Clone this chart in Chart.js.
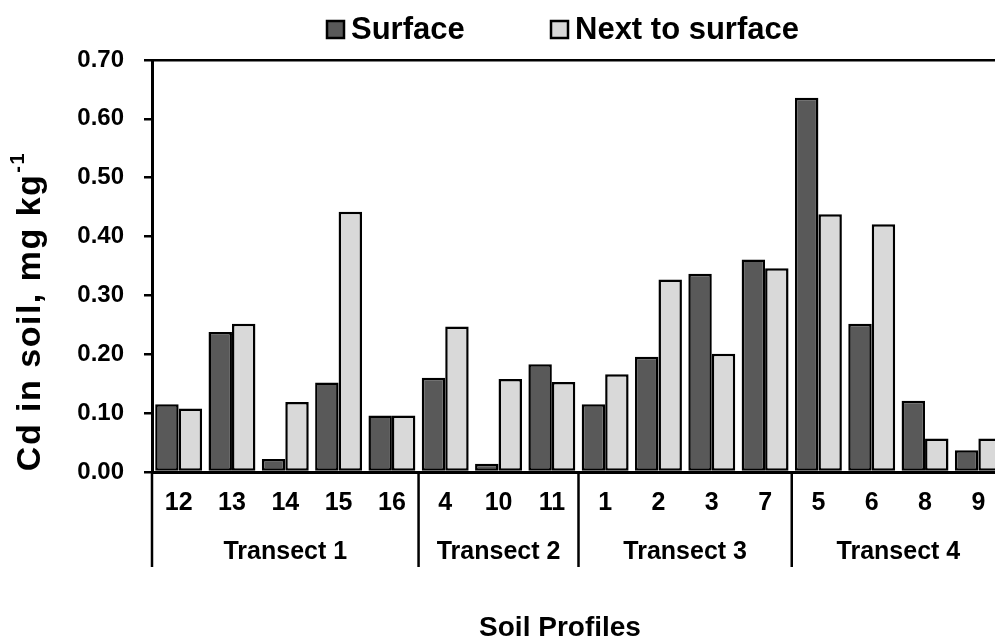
<!DOCTYPE html>
<html>
<head>
<meta charset="utf-8">
<script src="https://cdn.jsdelivr.net/npm/chart.js@4.4.1/dist/chart.umd.min.js"></script>
<style>
  html, body { margin: 0; padding: 0; background: #fff; overflow: hidden; }
  #wrap { width: 995px; height: 642px; overflow: hidden; }
</style>
</head>
<body>
<div id="wrap"><canvas id="cdChart" width="1010" height="642"></canvas></div>
<script>
// Soil profiles (x categories), grouped by transect
const profiles = ['12', '13', '14', '15', '16', '4', '10', '11', '1', '2', '3', '7', '5', '6', '8', '9'];
const transects = ['Transect 1', 'Transect 2', 'Transect 3', 'Transect 4'];
const transectSizes = [5, 3, 4, 4];

// Cd in soil, mg/kg
const surface = [0.115, 0.238, 0.022, 0.152, 0.096, 0.160, 0.014, 0.183, 0.115, 0.196, 0.337, 0.361, 0.636, 0.252, 0.121, 0.037];
const nextToSurface = [0.108, 0.252, 0.119, 0.442, 0.096, 0.247, 0.158, 0.153, 0.166, 0.327, 0.201, 0.346, 0.438, 0.421, 0.057, 0.057];

const yTicks = [0, 0.1, 0.2, 0.3, 0.4, 0.5, 0.6, 0.7];

const FONT = '"Liberation Sans", Arial, sans-serif';

// legend, axis titles and transect brackets
const decorations = {
    id: 'decorations',
    afterDraw(chart) {
        const ctx = chart.ctx;
        const x = chart.scales.x;
        const area = chart.chartArea;
        ctx.save();
        ctx.fillStyle = '#000';
        ctx.strokeStyle = '#000';

        // legend
        const legendX = [327, 551];
        chart.data.datasets.forEach((ds, i) => {
            ctx.fillStyle = ds.backgroundColor;
            ctx.fillRect(legendX[i], 21, 17, 17);
            ctx.lineWidth = 2.5;
            ctx.strokeRect(legendX[i], 21, 17, 17);
            ctx.fillStyle = '#000';
            ctx.font = 'bold 31px ' + FONT;
            ctx.textBaseline = 'middle';
            ctx.textAlign = 'left';
            ctx.fillText(ds.label, legendX[i] + 24, 30);
        });

        // transect dividers and labels
        ctx.lineWidth = 2.5;
        let start = 0;
        const edges = [0];
        transectSizes.forEach(n => { start += n; edges.push(start); });
        edges.forEach(i => {
            const px = x.getPixelForValue(i - 0.5);
            ctx.beginPath();
            ctx.moveTo(px, area.bottom);
            ctx.lineTo(px, 567);
            ctx.stroke();
        });
        ctx.font = 'bold 25px ' + FONT;
        ctx.textAlign = 'center';
        ctx.textBaseline = 'middle';
        transects.forEach((t, k) => {
            const a = x.getPixelForValue(edges[k] - 0.5);
            const b = x.getPixelForValue(edges[k + 1] - 0.5);
            ctx.fillText(t, (a + b) / 2, 552);
        });

        // x title
        ctx.font = 'bold 28px ' + FONT;
        ctx.fillText('Soil Profiles', 560, 628);

        // y title with superscript
        ctx.translate(31, 312);
        ctx.rotate(-Math.PI / 2);
        const main = 'Cd in soil, mg kg';
        ctx.font = 'bold 34px ' + FONT;
        ctx.letterSpacing = '1.5px';
        const w1 = ctx.measureText(main).width;
        ctx.font = 'bold 20px ' + FONT;
        const w2 = ctx.measureText('-1').width;
        const total = w1 + w2;
        ctx.textAlign = 'left';
        ctx.font = 'bold 34px ' + FONT;
        ctx.fillText(main, -total / 2, 0);
        ctx.font = 'bold 20px ' + FONT;
        ctx.fillText('-1', -total / 2 + w1 + 1, -13);
        ctx.restore();
    }
};

new Chart(document.getElementById('cdChart'), {
    type: 'bar',
    data: {
        labels: profiles,
        datasets: [
            {
                label: 'Surface',
                data: surface,
                backgroundColor: '#595959',
                borderColor: '#000',
                borderWidth: 2.5,
                borderSkipped: false
            },
            {
                label: 'Next to surface',
                data: nextToSurface,
                backgroundColor: '#d9d9d9',
                borderColor: '#000',
                borderWidth: 2.5,
                borderSkipped: false
            }
        ]
    },
    options: {
        responsive: false,
        animation: false,
        devicePixelRatio: 1,
        layout: { padding: { top: 60, right: 5, left: 0, bottom: 0 } },
        datasets: { bar: { categoryPercentage: 0.88, barPercentage: 1.0 } },
        plugins: {
            legend: { display: false },
            tooltip: { enabled: false }
        },
        scales: {
            x: {
                afterFit: s => { s.height = 170; },
                grid: { display: false },
                border: { display: true, color: '#000', width: 3 },
                ticks: {
                    color: '#000',
                    padding: 8,
                    maxRotation: 0,
                    autoSkip: false,
                    font: { family: FONT, size: 25, weight: 'bold' }
                }
            },
            y: {
                min: 0,
                max: 0.7,
                afterFit: s => { s.width = 152; },
                afterBuildTicks: s => { s.ticks = yTicks.map(v => ({ value: v })); },
                grid: {
                    color: c => (c.tick && c.tick.value === 0.7) ? '#000' : 'rgba(0,0,0,0)',
                    tickColor: '#000',
                    tickLength: 8,
                    lineWidth: 2.5
                },
                border: { display: true, color: '#000', width: 3 },
                ticks: {
                    color: '#000',
                    padding: 20,
                    callback: v => v.toFixed(2),
                    font: { family: FONT, size: 24, weight: 'bold' }
                }
            }
        }
    },
    plugins: [decorations]
});
</script>
</body>
</html>
